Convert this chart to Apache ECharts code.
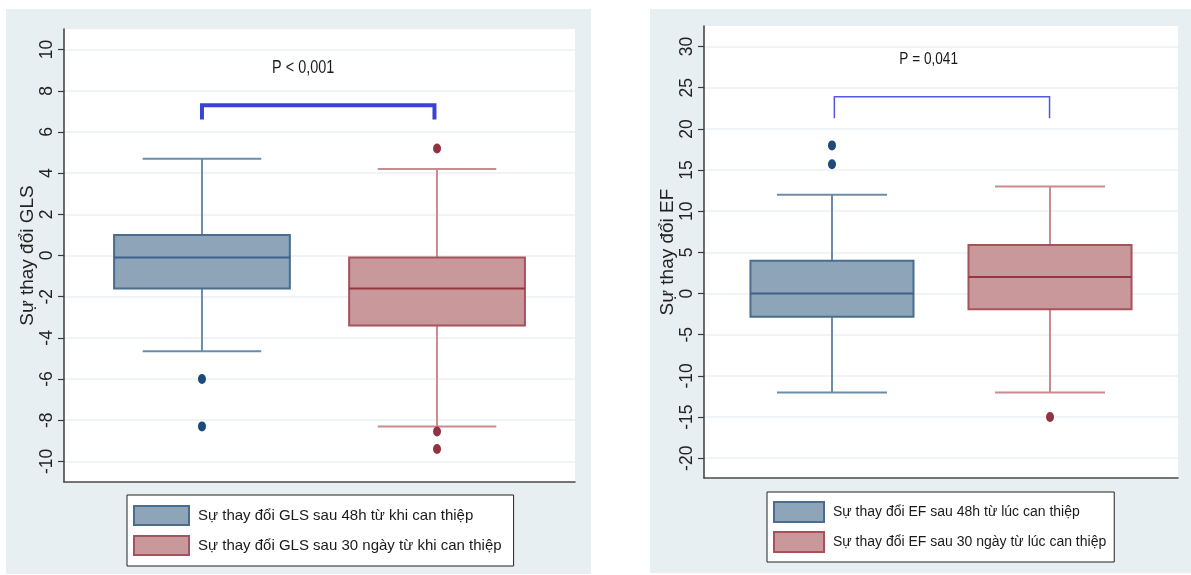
<!DOCTYPE html>
<html>
<head>
<meta charset="utf-8">
<script src="https://cdn.jsdelivr.net/npm/echarts@6/dist/echarts.min.js"></script>
<style>
  html, body { margin: 0; padding: 0; background: #ffffff; }
  #chart { width: 1191px; height: 575px; }
</style>
</head>
<body>
<div id="chart"></div>
<script>
// ---- GLS panel (left) ----
const glsNames = ['Sự thay đổi GLS sau 48h từ khi can thiệp', 'Sự thay đổi GLS sau 30 ngày từ khi can thiệp'];
// [min whisker, Q1, median, Q3, max whisker]
const gls48h = [-4.65, -1.6, -0.1, 1.0, 4.7];
const gls30d = [-8.3, -3.4, -1.6, -0.1, 4.2];
const glsOut48h = [-6.0, -8.3];
const glsOut30d = [5.2, -8.55, -9.4];
const glsTicks = [-10, -8, -6, -4, -2, 0, 2, 4, 6, 8, 10];
const glsTest = { label: 'P < 0,001', from: 27, to: 72.5, top: 7.3, foot: 6.6, textX: 46.8, textY: 9.1 };

// ---- EF panel (right) ----
const efNames = ['Sự thay đổi EF sau 48h từ lúc can thiệp', 'Sự thay đổi EF sau 30 ngày từ lúc can thiệp'];
const ef48h = [-12, -2.8, 0, 4, 12];
const ef30d = [-12, -1.9, 2, 5.9, 13];
const efOut48h = [18, 15.7];
const efOut30d = [-15];
const efTicks = [-20, -15, -10, -5, 0, 5, 10, 15, 20, 25, 30];
const efTest = { label: 'P = 0,041', from: 27.5, to: 72.9, top: 23.9, foot: 21.3, textX: 47.4, textY: 28.4 };

// group positions along the hidden x scale (0..100)
const groupPos = [27, 73];
const BOX_HALF = 17.2;
const CAP_HALF = 11.6;

const plainFont = "'Liberation Sans', Arial, sans-serif";

const blueStyle = { fill: '#8da4b9', border: '#4a6d8e', median: '#3d6189', whisker: '#6c8cab', dot: '#1d4a78' };
const redStyle = { fill: '#c8989b', border: '#a6525a', median: '#973540', whisker: '#c98a90', dot: '#913340' };

function boxSeries(name, gridIdx, pos, stats, st) {
  return {
    name: name,
    type: 'custom',
    xAxisIndex: gridIdx,
    yAxisIndex: gridIdx,
    itemStyle: { color: st.fill, borderColor: st.border },
    data: [[pos].concat(stats)],
    renderItem: function (params, api) {
      const x = api.value(0);
      const pMin = api.coord([x, api.value(1)]);
      const pQ1 = api.coord([x, api.value(2)]);
      const pMed = api.coord([x, api.value(3)]);
      const pQ3 = api.coord([x, api.value(4)]);
      const pMax = api.coord([x, api.value(5)]);
      const hb = api.size([BOX_HALF, 0])[0];
      const hc = api.size([CAP_HALF, 0])[0];
      const cx = pMed[0];
      const wStyle = { stroke: st.whisker, lineWidth: 2 };
      return {
        type: 'group',
        children: [
          { type: 'line', shape: { x1: cx, y1: pMax[1], x2: cx, y2: pQ3[1] }, style: wStyle },
          { type: 'line', shape: { x1: cx, y1: pQ1[1], x2: cx, y2: pMin[1] }, style: wStyle },
          { type: 'line', shape: { x1: cx - hc, y1: pMax[1], x2: cx + hc, y2: pMax[1] }, style: wStyle },
          { type: 'line', shape: { x1: cx - hc, y1: pMin[1], x2: cx + hc, y2: pMin[1] }, style: wStyle },
          { type: 'rect', shape: { x: cx - hb, y: pQ3[1], width: 2 * hb, height: pQ1[1] - pQ3[1] },
            style: { fill: st.fill, stroke: st.border, lineWidth: 2 } },
          { type: 'line', shape: { x1: cx - hb, y1: pMed[1], x2: cx + hb, y2: pMed[1] },
            style: { stroke: st.median, lineWidth: 2 } }
        ]
      };
    }
  };
}

function outlierSeries(gridIdx, pos, values, st) {
  return {
    type: 'scatter',
    xAxisIndex: gridIdx,
    yAxisIndex: gridIdx,
    symbol: 'circle',
    symbolSize: [8, 10],
    itemStyle: { color: st.dot, opacity: 1 },
    z: 5,
    data: values.map(function (v) { return [pos, v]; })
  };
}

// significance bracket with its P label (label set in a condensed width)
function bracketSeries(gridIdx, test, width, color, fontSize) {
  return {
    type: 'custom',
    xAxisIndex: gridIdx,
    yAxisIndex: gridIdx,
    z: 6,
    data: [[test.from, test.to, test.top, test.foot, test.textX, test.textY]],
    renderItem: function (params, api) {
      const a = api.coord([api.value(0), api.value(3)]);
      const b = api.coord([api.value(0), api.value(2)]);
      const c = api.coord([api.value(1), api.value(2)]);
      const d = api.coord([api.value(1), api.value(3)]);
      const t = api.coord([api.value(4), api.value(5)]);
      return {
        type: 'group',
        children: [
          { type: 'polyline', shape: { points: [a, b, c, d] },
            style: { stroke: color, lineWidth: width, fill: null, lineJoin: 'miter' } },
          { type: 'text', x: t[0], y: t[1], scaleX: 0.8, scaleY: 1,
            style: { text: test.label, fill: '#1a1a1a', font: fontSize + 'px ' + plainFont, align: 'center', verticalAlign: 'middle' } }
        ]
      };
    }
  };
}

function yAxisFor(gridIdx, min, max, ticks, title, nameGap) {
  return {
    gridIndex: gridIdx,
    type: 'value',
    min: min,
    max: max,
    name: title,
    nameLocation: 'middle',
    nameGap: nameGap,
    nameTextStyle: { fontSize: 19, color: '#222', fontFamily: plainFont },
    axisLine: { show: true, lineStyle: { color: '#3a3a3a', width: 1.5 } },
    axisTick: { show: true, length: 6, customValues: ticks, lineStyle: { color: '#3a3a3a', width: 1.2 } },
    axisLabel: { customValues: ticks, rotate: 90, fontSize: 17.5, color: '#222', margin: 8, fontFamily: plainFont },
    splitLine: { show: true, lineStyle: { color: '#ebf1f3', width: 1.5 } }
  };
}

function xAxisFor(gridIdx) {
  return {
    gridIndex: gridIdx,
    type: 'value',
    min: 0,
    max: 100,
    axisLine: { show: true, onZero: false, lineStyle: { color: '#4a4a4a', width: 1.5 } },
    axisTick: { show: false },
    axisLabel: { show: false },
    splitLine: { show: false }
  };
}

function legendFor(names, left, top, padding, iw, ih, gap, fontSize, styles) {
  return {
    orient: 'vertical',
    left: left,
    top: top,
    padding: padding,
    itemWidth: iw,
    itemHeight: ih,
    itemGap: gap,
    backgroundColor: '#ffffff',
    borderColor: '#222',
    borderWidth: 1,
    selectedMode: false,
    icon: 'rect',
    textStyle: { fontSize: fontSize, color: '#1a1a1a', fontFamily: plainFont, padding: [0, 0, 0, 4] },
    data: names.map(function (n, i) {
      return { name: n, itemStyle: { color: styles[i].fill, borderColor: styles[i].border, borderWidth: 2 } };
    })
  };
}

const chart = echarts.init(document.getElementById('chart'), null, { renderer: 'canvas' });

chart.setOption({
  animation: false,
  backgroundColor: '#ffffff',
  graphic: [
    { type: 'rect', z: -100, silent: true, shape: { x: 6, y: 9, width: 585, height: 565 }, style: { fill: '#e8eff2' } },
    { type: 'rect', z: -100, silent: true, shape: { x: 650, y: 9, width: 541, height: 564 }, style: { fill: '#e8eff2' } }
  ],
  grid: [
    { left: 64, top: 29, width: 511, height: 453, show: true, backgroundColor: '#ffffff', borderWidth: 0 },
    { left: 704, top: 26, width: 474, height: 452, show: true, backgroundColor: '#ffffff', borderWidth: 0 }
  ],
  xAxis: [xAxisFor(0), xAxisFor(1)],
  yAxis: [
    yAxisFor(0, -11, 11, glsTicks, 'Sự thay đổi GLS', 27),
    yAxisFor(1, -22.4, 32.5, efTicks, 'Sự thay đổi EF', 10)
  ],
  legend: [
    legendFor(glsNames, 127, 495, [10, 12, 10, 6], 55, 19, 9, 15, [blueStyle, redStyle]),
    legendFor(efNames, 767, 492, [9, 8, 9, 6], 50, 20, 8, 14, [blueStyle, redStyle])
  ],
  series: [
    boxSeries(glsNames[0], 0, groupPos[0], gls48h, blueStyle),
    boxSeries(glsNames[1], 0, groupPos[1], gls30d, redStyle),
    outlierSeries(0, groupPos[0], glsOut48h, blueStyle),
    outlierSeries(0, groupPos[1], glsOut30d, redStyle),
    bracketSeries(0, glsTest, 4, '#3b44d2', 18),
    boxSeries(efNames[0], 1, groupPos[0], ef48h, blueStyle),
    boxSeries(efNames[1], 1, groupPos[1], ef30d, redStyle),
    outlierSeries(1, groupPos[0], efOut48h, blueStyle),
    outlierSeries(1, groupPos[1], efOut30d, redStyle),
    bracketSeries(1, efTest, 1.5, '#5558de', 17)
  ]
});
</script>
</body>
</html>
